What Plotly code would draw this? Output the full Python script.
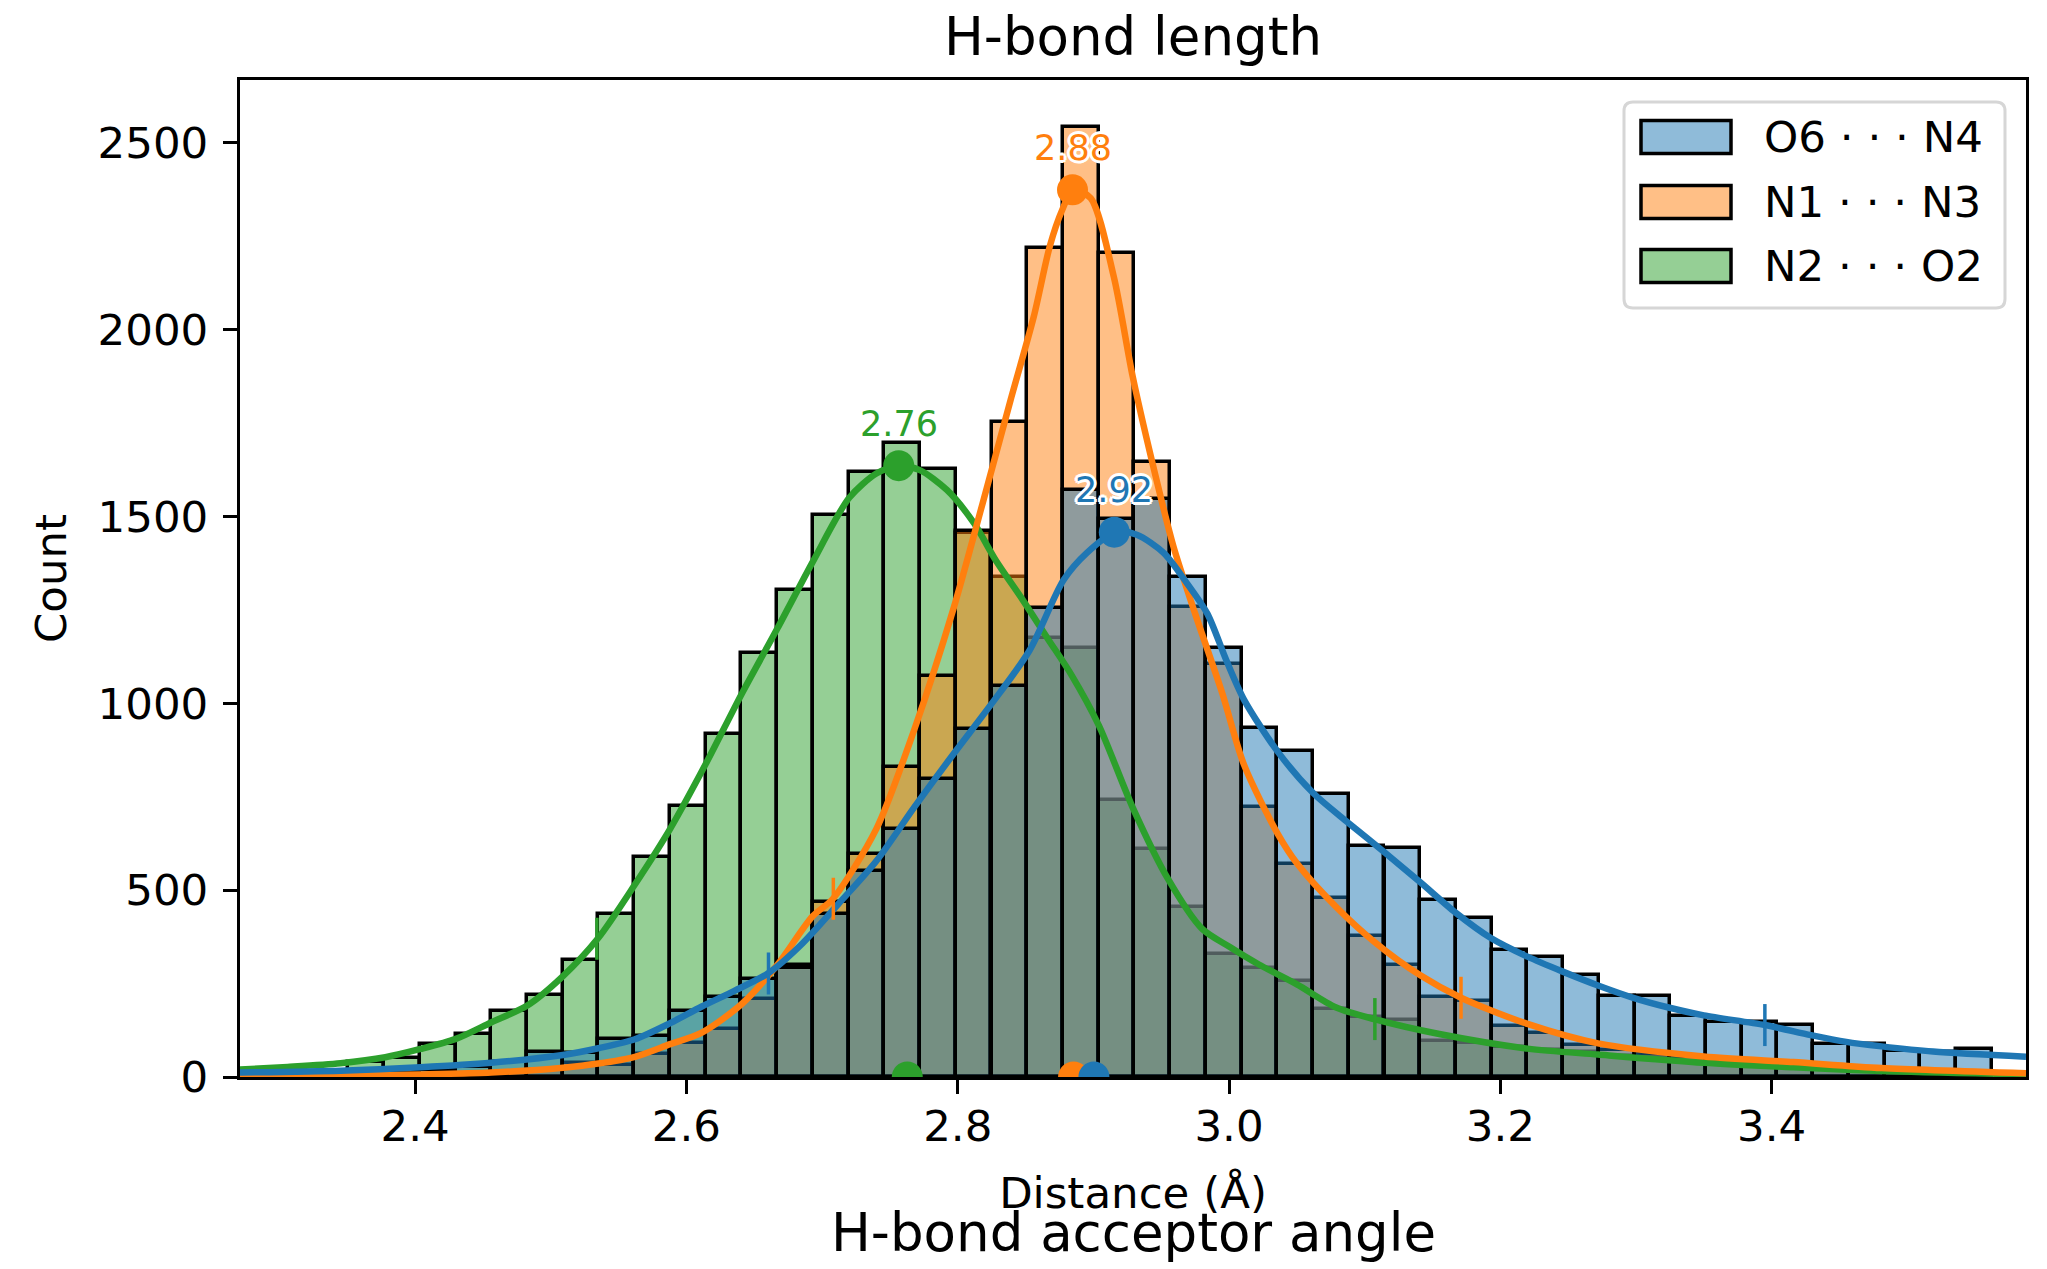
import plotly.graph_objects as go

# ---------------- data ----------------
series_names = ["O6 · · · N4", "N1 · · · N3", "N2 · · · O2"]
series_colors = ["#1f77b4", "#ff7f0e", "#2ca02c"]
series_fills = ["rgba(31,119,180,0.5)", "rgba(255,127,14,0.5)", "rgba(44,160,44,0.5)"]

bin_width = 0.026337
bin_left = [2.3508, 2.3771, 2.4035, 2.4298, 2.4561, 2.4825, 2.5088, 2.5351, 2.5615, 2.5878,
            2.6142, 2.6405, 2.6668, 2.6932, 2.7195, 2.7459, 2.7722, 2.7985, 2.8249, 2.8512,
            2.8775, 2.9039, 2.9302, 2.9566, 2.9829, 3.0092, 3.0356, 3.0619, 3.0882, 3.1146,
            3.1409, 3.1672, 3.1936, 3.2199, 3.2463, 3.2726, 3.2989, 3.3253, 3.3516, 3.3779,
            3.4043, 3.4306, 3.4570, 3.4833, 3.5096, 3.5360]

counts_O6_N4 = [10, 14, 20, 27, 40, 68, 63, 102, 111, 177,
                215, 263, 292, 435, 550, 664, 798, 932, 1047, 1256,
                1571, 1492, 1547, 1339, 1147, 935, 872, 758, 617, 612,
                473, 425, 341, 322, 274, 217, 217, 164, 147, 147,
                139, 87, 88, 70, 67, 75]
counts_N1_N3 = [2, 3, 4, 6, 10, 18, 37, 32, 62, 90,
                129, 210, 300, 468, 597, 830, 1073, 1462, 1754, 2219,
                2543, 2204, 1647, 1257, 1106, 722, 571, 478, 377, 301,
                215, 204, 137, 119, 86, 72, 62, 53, 45, 40,
                33, 28, 22, 18, 14, 10]
counts_N2_O2 = [40, 52, 89, 116, 177, 220, 314, 436, 588, 725,
                918, 1135, 1304, 1504, 1620, 1697, 1628, 1455, 1339, 1175,
                1147, 741, 609, 454, 330, 293, 258, 182, 160, 153,
                96, 91, 81, 72, 67, 57, 53, 43, 35, 30,
                25, 20, 16, 12, 9, 6]

kde_O6_N4_x = [2.2709, 2.345, 2.404, 2.456, 2.509, 2.535, 2.562, 2.588, 2.611, 2.635, 2.660,
               2.684, 2.712, 2.740, 2.768, 2.797, 2.825, 2.853, 2.878, 2.895, 2.9165, 2.932,
               2.952, 2.969, 2.984, 2.998, 3.011, 3.036, 3.062, 3.088, 3.115, 3.141, 3.167,
               3.193, 3.220, 3.246, 3.272, 3.298, 3.324, 3.350, 3.395, 3.429, 3.455, 3.481,
               3.519, 3.5875]
kde_O6_N4_y = [12, 17, 26, 38, 59, 77, 101, 144, 188, 230, 277,
               352, 463, 578, 722, 865, 999, 1142, 1330, 1402, 1458, 1451,
               1402, 1321, 1240, 1115, 1010, 870, 760, 680, 600, 521, 440,
               372, 322, 282, 245, 212, 186, 165, 139, 112, 94, 82,
               68, 54]

kde_N1_N3_x = [2.2709, 2.350, 2.404, 2.456, 2.509, 2.535, 2.562, 2.588, 2.611, 2.641, 2.667,
               2.693, 2.708, 2.740, 2.768, 2.797, 2.819, 2.839, 2.856, 2.868, 2.877, 2.885,
               2.898, 2.915, 2.929, 2.943, 2.959, 2.975, 2.995, 3.011, 3.036, 3.050, 3.079,
               3.107, 3.141, 3.171, 3.220, 3.272, 3.350, 3.416, 3.481, 3.5875]
kde_N1_N3_y = [3, 4, 7, 12, 25, 36, 54, 88, 118, 196, 300,
               430, 477, 664, 930, 1255, 1544, 1812, 2034, 2225, 2320, 2374,
               2352, 2142, 1874, 1651, 1420, 1240, 1027, 836, 650, 572, 455,
               362, 272, 212, 142, 90, 55, 40, 24, 10]

kde_N2_O2_x = [2.2709, 2.306, 2.345, 2.378, 2.404, 2.430, 2.456, 2.483, 2.509, 2.535, 2.562,
               2.588, 2.614, 2.641, 2.667, 2.693, 2.720, 2.740, 2.756, 2.772, 2.792, 2.812,
               2.828, 2.848, 2.866, 2.884, 2.904, 2.929, 2.955, 2.980, 3.000, 3.022, 3.050,
               3.079, 3.107, 3.155, 3.220, 3.272, 3.350, 3.416, 3.481, 3.5875]
kde_N2_O2_y = [20, 27, 37, 53, 75, 102, 146, 192, 270, 372, 515,
               664, 836, 1027, 1200, 1378, 1550, 1615, 1636, 1624, 1571, 1482,
               1383, 1276, 1175, 1075, 941, 721, 530, 397, 349, 301, 248,
               186, 155, 115, 76, 60, 38, 26, 16, 7]

peak_x = [2.9154, 2.8846, 2.7565]
peak_y = [1458, 2374, 1636]
peak_labels = ["2.92", "2.88", "2.76"]

center_x = [2.9004, 2.8854, 2.7628]          # dots sitting on the x axis

pct_x = [[2.6605, 3.395], [2.7083, 3.171], [2.534, 3.1075]]
pct_y = [[277, 139], [477, 212], [370, 155]]

x_ticks = [2.4, 2.6, 2.8, 3.0, 3.2, 3.4]
y_ticks = [0, 500, 1000, 1500, 2000, 2500]
x_range = [2.2709, 3.5875]
y_range = [0, 2668]

counts = [counts_O6_N4, counts_N1_N3, counts_N2_O2]
kde_x = [kde_O6_N4_x, kde_N1_N3_x, kde_N2_O2_x]
kde_y = [kde_O6_N4_y, kde_N1_N3_y, kde_N2_O2_y]

FONT = "DejaVu Sans"
FS = 43.5

fig = go.Figure()

# bars: drawn green, orange, blue (first hue ends on top)
for i in [2, 1, 0]:
    fig.add_trace(go.Bar(
        x=bin_left, y=counts[i], width=bin_width, offset=0,
        marker=dict(color=series_fills[i], line=dict(color="black", width=3.5)),
        name=series_names[i], showlegend=False, hoverinfo="skip"))

for i in [2, 1, 0]:
    fig.add_trace(go.Scatter(
        x=kde_x[i], y=kde_y[i], mode="lines",
        line=dict(color=series_colors[i], width=6.5, shape="spline", smoothing=0.8),
        showlegend=False, hoverinfo="skip"))

for i in [2, 1, 0]:
    fig.add_trace(go.Scatter(
        x=pct_x[i], y=pct_y[i], mode="markers",
        marker=dict(symbol="line-ns", size=30, line=dict(color=series_colors[i], width=3.5)),
        showlegend=False, hoverinfo="skip"))

for i in [2, 1, 0]:
    fig.add_trace(go.Scatter(
        x=[peak_x[i]], y=[peak_y[i]], mode="markers",
        marker=dict(color=series_colors[i], size=31, line=dict(width=0)),
        showlegend=False, hoverinfo="skip"))
    fig.add_trace(go.Scatter(
        x=[center_x[i]], y=[0], mode="markers", cliponaxis=True,
        marker=dict(color=series_colors[i], size=31, line=dict(width=0)),
        showlegend=False, hoverinfo="skip"))

halo = ("3px 0 0 #fff, -3px 0 0 #fff, 0 3px 0 #fff, 0 -3px 0 #fff, "
        "2px 2px 0 #fff, -2px 2px 0 #fff, 2px -2px 0 #fff, -2px -2px 0 #fff")
annotations = []
for i in range(3):
    annotations.append(dict(
        x=peak_x[i], y=peak_y[i], xref="x", yref="y", text=peak_labels[i],
        showarrow=False, yshift=42, xanchor="center", yanchor="middle",
        font=dict(family=FONT, size=35, color=series_colors[i], shadow=halo)))

# manual legend (matplotlib style)
W, H = 1786.0, 997.0
def px(X):
    return (X - 240) / W
def py(Y):
    return (1077 - Y) / H

shapes = []
bx0, bx1, by0, by1 = px(1624), px(2005), py(308), py(102)
rx, ry = 9 / W, 9 / H
path = (f"M {bx0+rx},{by1} L {bx1-rx},{by1} Q {bx1},{by1} {bx1},{by1-ry} "
        f"L {bx1},{by0+ry} Q {bx1},{by0} {bx1-rx},{by0} L {bx0+rx},{by0} "
        f"Q {bx0},{by0} {bx0},{by0+ry} L {bx0},{by1-ry} Q {bx0},{by1} {bx0+rx},{by1} Z")
shapes.append(dict(type="path", xref="paper", yref="paper", path=path,
                   fillcolor="rgba(255,255,255,0.8)", line=dict(color="#d6d6d6", width=3)))
row_centers = [137, 202, 266]
for i in range(3):
    yc = row_centers[i]
    shapes.append(dict(type="rect", xref="paper", yref="paper",
                       x0=px(1641), x1=px(1731), y0=py(yc + 16.5), y1=py(yc - 16.5),
                       fillcolor=series_fills[i], line=dict(color="black", width=3.5)))
    annotations.append(dict(x=px(1762), y=py(yc), xref="paper", yref="paper",
                            text=series_names[i], showarrow=False,
                            xanchor="left", yanchor="middle",
                            font=dict(family=FONT, size=FS, color="black")))

annotations.append(dict(x=0.5, y=py(1232), xref="paper", yref="paper",
                        text="H-bond acceptor angle", showarrow=False,
                        xanchor="center", yanchor="middle",
                        font=dict(family=FONT, size=53, color="black")))

fig.update_layout(
    width=2047, height=1269,
    margin=dict(l=240, r=21, t=80, b=192, autoexpand=False),
    paper_bgcolor="white", plot_bgcolor="white",
    barmode="overlay", bargap=0,
    font=dict(family=FONT, size=FS, color="black"),
    title=dict(text="H-bond length", x=0.5, xref="paper", xanchor="center",
               y=1 - 36 / 1269, yref="container", yanchor="middle",
               font=dict(family=FONT, size=53, color="black")),
    xaxis=dict(range=x_range, tickvals=x_ticks, ticktext=[f"{v:.1f}" for v in x_ticks],
               showgrid=False, zeroline=False, showline=True, mirror=True,
               linecolor="black", linewidth=3, ticks="outside", ticklen=14,
               tickwidth=3, tickcolor="black", ticklabelstandoff=-5,
               tickfont=dict(family=FONT, size=FS),
               title=dict(text="Distance (Å)", standoff=28,
                          font=dict(family=FONT, size=FS)),
               automargin=False),
    yaxis=dict(range=y_range, tickvals=y_ticks, showgrid=False, zeroline=False,
               showline=True, mirror=True, linecolor="black", linewidth=3,
               ticks="outside", ticklen=14, tickwidth=3, tickcolor="black",
               ticklabelstandoff=6, tickfont=dict(family=FONT, size=FS),
               title=dict(text="Count", standoff=18, font=dict(family=FONT, size=FS)),
               automargin=False),
    shapes=shapes, annotations=annotations,
)

fig.write_html("out.html")
